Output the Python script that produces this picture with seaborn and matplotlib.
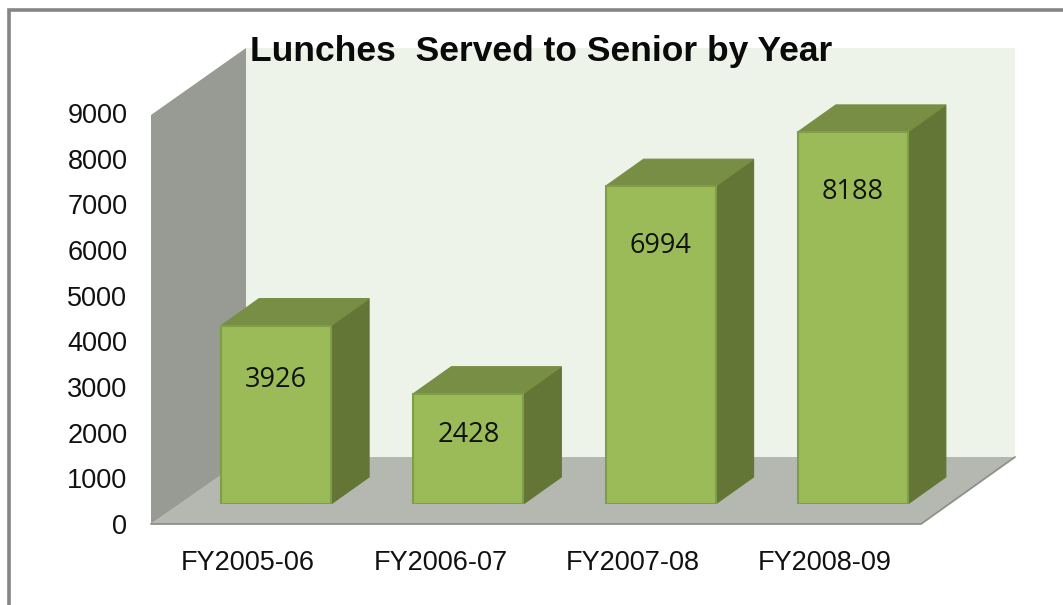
import matplotlib
matplotlib.use("Agg")
import matplotlib.pyplot as plt
import seaborn as sns
import pandas as pd
from matplotlib.patches import Polygon, Rectangle

# datos
years = ["FY2005-06", "FY2006-07", "FY2007-08", "FY2008-09"]
lunches = [3926, 2428, 6994, 8188]
y_ticks = [0, 1000, 2000, 3000, 4000, 5000, 6000, 7000, 8000, 9000]
title = "Lunches  Served to Senior by Year"

W, H = 1063, 605
DX, DY = 38, 27  # profundidad de las barras en pixeles
label_drop = [54, 41, 60, 60]  # cuanto baja cada etiqueta desde la cara superior

sns.set_theme(style="white")
plt.rcParams['font.family'] = ['Liberation Sans', 'DejaVu Sans']


def caja_pix(x0, y0, x1, y1):
    # rectangulo en pixeles (origen arriba) a fraccion de figura
    return [x0 / W, 1 - y1 / H, (x1 - x0) / W, (y1 - y0) / H]


df = pd.DataFrame({"year": years, "lunches": lunches})
fig = plt.figure(figsize=(W / 100, H / 100), dpi=100, facecolor="white")

# --- Fondo: marco, paredes y suelo ---
bg = fig.add_axes([0, 0, 1, 1])
bg.set_xlim(0, W)
bg.set_ylim(H, 0)
bg.axis("off")
bg.plot([8.5, 8.5, W], [H, 9.5, 9.5], color="#858585", lw=2.6, solid_joinstyle="miter")
bg.add_patch(Rectangle((246, 48), 769, 409, fc="#EEF3EA", ec="none"))
bg.add_patch(Polygon([(151, 115), (246, 48), (246, 458), (151, 524)], fc="#989A94", ec="none"))
bg.add_patch(Polygon([(151, 524), (246, 457), (1015, 457), (921, 524)], fc="#B5B7B1", ec="none"))
bg.plot([151, 921, 1015], [524, 524, 457], color="#8E908B", lw=1.3)

# --- Barras: eje 0 en la base frontal de las barras ---
ax = fig.add_axes(caja_pix(180, 95, 949, 504))
ax.patch.set_alpha(0)
sns.barplot(data=df, x="year", y="lunches", color="#9BBB59", saturation=1, width=0.572,
            edgecolor="#7F9E48", linewidth=1.5, ax=ax, zorder=3)
ax.set_xlim(-0.5, 3.5)
ax.set_ylim(0, 9000)
ax.axis("off")

# Caras lateral y superior a partir de cada barra
to_px = ax.transData
to_data = ax.transData.inverted()
for bar, value, drop in zip(ax.containers[0], lunches, label_drop):
    x0, y0 = to_px.transform((bar.get_x(), 0))
    x1, y1 = to_px.transform((bar.get_x() + bar.get_width(), value))
    caras = [
        ([(x1, y0), (x1 + DX, y0 + DY), (x1 + DX, y1 + DY), (x1, y1)], "#647636"),
        ([(x0, y1), (x0 + DX, y1 + DY), (x1 + DX, y1 + DY), (x1, y1)], "#788E45"),
    ]
    for puntos, color in caras:
        ax.add_patch(Polygon(to_data.transform(puntos), fc=color, ec=color, lw=0.8, zorder=2))
    ax.annotate(str(value), xy=(bar.get_x() + bar.get_width() / 2, value),
                xytext=(0, -drop / 100 * 72), textcoords="offset points",
                ha="center", va="center", fontsize=19.5, color="#111111",
                family=["Open Sans", "DejaVu Sans"], zorder=5)

# --- Eje de valores y categorias ---
tx = fig.add_axes(caja_pix(151, 113, 921, 524))
tx.patch.set_alpha(0)
tx.set_ylim(0, 9000)
tx.set_xlim(0, 1)
tx.set_yticks(y_ticks)
tx.set_yticklabels([str(t) for t in y_ticks], fontsize=19.5, color="#111111")
tx.tick_params(axis="y", length=0, pad=17)
tx.set_xticks([])
sns.despine(ax=tx, left=True, bottom=True)

for i, year in enumerate(years):
    bg.text(to_px.transform((i, 0))[0] - 28, 563, year, ha="center", va="center",
            fontsize=19.5, color="#111111")

bg.text(541, 51, title, ha="center", va="center", fontsize=25.5, fontweight="bold",
        color="#0A0A0A", zorder=6)

fig.savefig("out.png", dpi=100)
